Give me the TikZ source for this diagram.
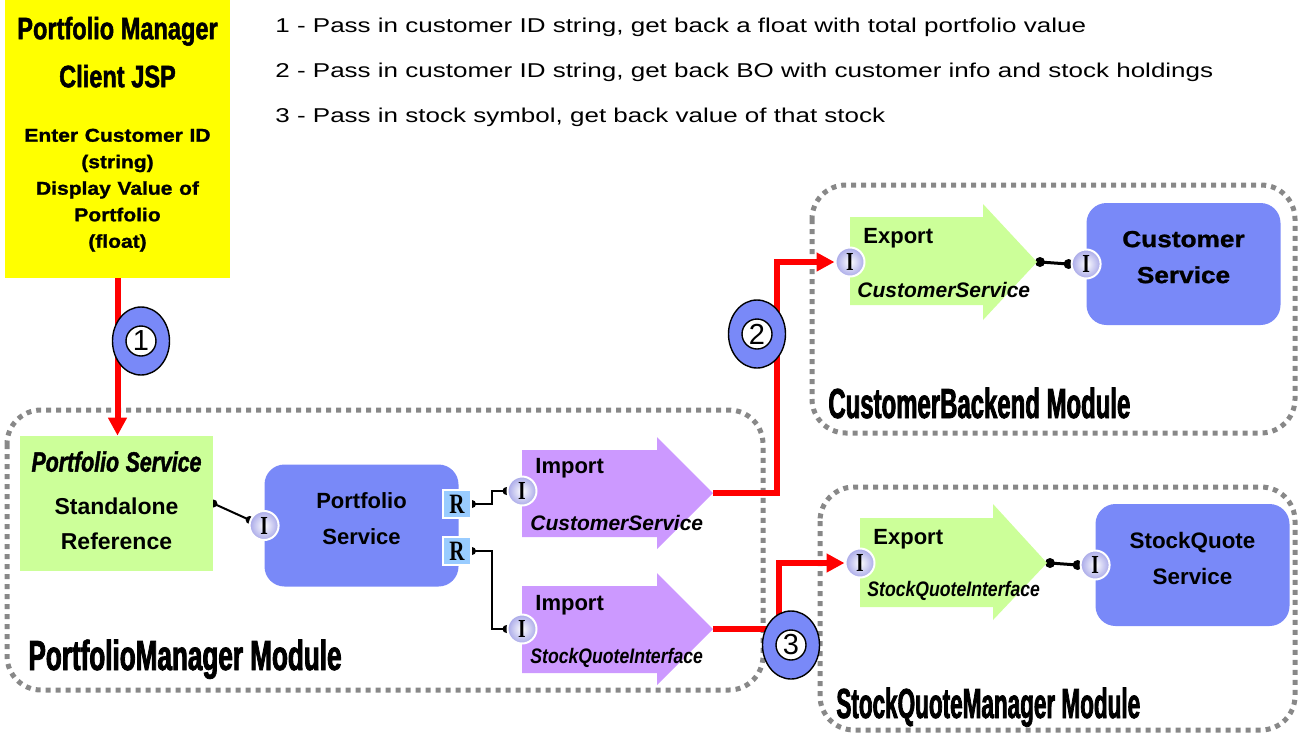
\documentclass[tikz,border=0pt]{standalone}
\usepackage{fontspec}
\setmainfont{Liberation Sans}
\newfontfamily\widefont[FakeStretch=1.3]{Liberation Sans}
\newfontfamily\blackfont[FakeStretch=1.13, FakeBold=1.2]{Liberation Sans}
\newfontfamily\titlefont[FakeStretch=0.76, FakeBold=1.5]{Liberation Sans}
\newfontfamily\modfont[FakeStretch=0.57, FakeBold=1.8]{Liberation Sans}
\newfontfamily\slimfont[FakeStretch=0.84]{Liberation Sans}
\newfontfamily\portfont[FakeStretch=0.75]{Liberation Serif}
\usetikzlibrary{shapes.geometric,arrows.meta,backgrounds,calc,shadings}
\definecolor{jspyellow}{RGB}{255,255,0}
\definecolor{refgreen}{RGB}{204,255,153}
\definecolor{svcblue}{RGB}{121,137,248}
\definecolor{imppurple}{RGB}{204,153,255}
\definecolor{portlav}{RGB}{168,168,232}
\definecolor{rportblue}{RGB}{153,204,255}
\definecolor{modgray}{RGB}{136,136,136}
\definecolor{flowred}{RGB}{255,0,0}

\begin{document}
\begin{tikzpicture}[x=0.5pt,y=-0.5pt]
	\tikzstyle{module}=[draw=modgray, line width=2.5pt, dash pattern=on 2.5pt off 2.5pt, rounded corners=17pt]
	\tikzstyle{mod-label}=[anchor=base west, inner sep=0pt, transform shape, font=\modfont\bfseries\fontsize{21}{21}\selectfont]
	\tikzstyle{note}=[anchor=base west, inner sep=0pt, font=\widefont\fontsize{10}{10}\selectfont]
	\tikzstyle{svc}=[rectangle, rounded corners=10pt, fill=svcblue, inner sep=0pt, minimum width=97pt, minimum height=61pt, text width=92pt, text depth=25pt, align=center]
	\tikzstyle{imp-arrow}=[fill=imppurple]
	\tikzstyle{exp-arrow}=[fill=refgreen]
	\tikzstyle{kind}=[anchor=base west, inner sep=0pt, font=\bfseries\fontsize{11}{11}\selectfont]
	\tikzstyle{iface}=[anchor=base west, inner sep=0pt, font=\bfseries\itshape\fontsize{10.5}{10.5}\selectfont]
	\tikzstyle{i-port}=[circle, inner sep=0pt, minimum size=14.5pt, draw=white, line width=1pt, inner color=white, outer color=portlav, font=\portfont\bfseries\fontsize{13}{13}\selectfont]
	\tikzstyle{r-port}=[rectangle, inner sep=0pt, minimum size=14pt, fill=rportblue, draw=white, line width=1pt, font=\portfont\bfseries\fontsize{14}{14}\selectfont]
	\tikzstyle{wire}=[draw=black, line width=1pt]
	\tikzstyle{link}=[draw=black, line width=1.5pt]
	\tikzstyle{flow}=[draw=flowred, line width=3pt, -{Triangle[length=9pt,width=9pt]}]
	\tikzstyle{step-mark}=[ellipse, draw=black, line width=0.7pt, fill=svcblue, minimum width=28.5pt, minimum height=34pt, inner sep=0pt]
	\tikzstyle{step-num}=[circle, draw=black, line width=0.7pt, fill=white, minimum size=15pt, inner sep=0pt, font=\fontsize{14.5}{14.5}\selectfont]

	\def \impB{136}

	\useasboundingbox (0,0) rectangle (1306,735);

	% client and notes
	\node[fill=jspyellow, minimum width=112.5pt, minimum height=139pt, text width=112.5pt, text depth=111pt, inner sep=0pt, align=center] (client) at (117.5,139)
		{{\titlefont\bfseries\fontsize{15.5}{24}\selectfont Portfolio Manager\\Client JSP\par}\vskip14pt
		 {\blackfont\bfseries\fontsize{9.3}{13.25}\selectfont Enter Customer ID\\(string)\\Display Value of\\Portfolio\\(float)\par}};

	\node[note] (note1) at (275,32)	{1 - Pass in customer ID string, get back a float with total portfolio value};
	\node[note] (note2) at (275,77)	{2 - Pass in customer ID string, get back BO with customer info and stock holdings};
	\node[note] (note3) at (275,122)	{3 - Pass in stock symbol, get back value of that stock};

	% PortfolioManager module
	\node[fill=refgreen, minimum width=96.5pt, minimum height=67.5pt, text width=96.5pt, text depth=42pt, inner sep=0pt, align=center] (pfref) at (116.5,503.5)
		{{\titlefont\bfseries\itshape\fontsize{14}{14}\selectfont Portfolio Service\par}\vskip4pt
		 {\bfseries\fontsize{11.5}{17.5}\selectfont Standalone\\Reference\par}};
	\node[svc, font=\bfseries\fontsize{11}{18}\selectfont] (pfsvc) at (361.5,525.5) {Portfolio\\Service};

	\coordinate (imp1tip) at (713,493);
	\coordinate (imp2tip) at (713,493+\impB);
	\fill[imp-arrow] (522,450) -- (657,450) -- (657,437) -- (imp1tip) -- (657,549) -- (657,537) -- (522,537) -- cycle;
	\fill[imp-arrow] (522,450+\impB) -- (657,450+\impB) -- (657,437+\impB) -- (imp2tip) -- (657,549+\impB) -- (657,537+\impB) -- (522,537+\impB) -- cycle;
	\node[kind]	(imp1kind)	at (535,473)	{Import};
	\node[iface]	(imp1if)	at (530,530)	{CustomerService};
	\node[kind]	(imp2kind)	at (535,610)	{Import};
	\node[iface, font=\slimfont\bfseries\itshape\fontsize{10.5}{10.5}\selectfont]	(imp2if)	at (530,663)	{StockQuoteInterface};

	% CustomerBackend module
	\coordinate (ex1tip) at (1037,262);
	\fill[exp-arrow] (850,217) -- (983,217) -- (983,204) -- (ex1tip) -- (983,320) -- (983,305) -- (850,305) -- cycle;
	\node[kind]	(ex1kind)	at (863,243)	{Export};
	\node[iface]	(ex1if)	at (857,297)	{CustomerService};
	\node[svc, font=\blackfont\bfseries\fontsize{11.6}{18}\selectfont] (cust) at (1183.5,264) {Customer\\Service};

	% StockQuoteManager module
	\coordinate (ex2tip) at (1047,563);
	\fill[exp-arrow] (860,518) -- (993,518) -- (993,504) -- (ex2tip) -- (993,620) -- (993,607) -- (860,607) -- cycle;
	\node[kind]	(ex2kind)	at (873,544)	{Export};
	\node[iface, font=\slimfont\bfseries\itshape\fontsize{10.5}{10.5}\selectfont]	(ex2if)	at (867,596)	{StockQuoteInterface};
	\node[svc, font=\bfseries\fontsize{11.2}{18}\selectfont] (sq) at (1192.5,565) {StockQuote\\Service};

	% ports
	\node[i-port]	(ip1)	at (pfsvc.west)	{I};
	\node[i-port]	(ip2)	at (522,491)	{I};
	\node[i-port]	(ip3)	at (522,629)	{I};
	\node[i-port]	(ip4)	at (850,262)	{I};
	\node[i-port]	(ip5)	at (cust.west)	{I};
	\node[i-port]	(ip6)	at (860,563)	{I};
	\node[i-port]	(ip7)	at (sq.west)	{I};
	\node[r-port]	(rp1)	at (457,504)	{R};
	\node[r-port]	(rp2)	at (457,551)	{R};

	\node[mod-label, xscale=1.09] (pmlab) at (28,670)	{PortfolioManager Module};
	\node[mod-label] (cblab) at (828,418)	{CustomerBackend Module};
	\node[mod-label, xscale=0.94] (sqlab) at (836,718)	{StockQuoteManager Module};

	\begin{scope}[on background layer]
		\draw[module] (7,410) rectangle (763,690);
		\draw[module] (812,185) rectangle (1295,433);
		\draw[module] (820,487) rectangle (1295,730);

		\draw[wire] (pfref.east) -- (ip1.159);
		\fill (pfref.east) circle (2pt);
		\fill (ip1.159) circle (2pt);
		\draw[wire] (rp1.east) -- ++(20,0) |- (ip2);
		\fill (rp1.east) circle (2pt);
		\fill (ip2.west) circle (2pt);
		\draw[wire] (rp2.east) -- ++(20,0) |- (ip3);
		\fill (rp2.east) circle (2pt);
		\fill (ip3.west) circle (2pt);

		\coordinate (lk1a) at ($(ex1tip)+(3,0)$);
		\coordinate (lk1b) at ($(ip5.west)+(-2,0)$);
		\coordinate (lk2a) at ($(ex2tip)+(3,0)$);
		\coordinate (lk2b) at ($(ip7.west)+(-2,0)$);
		\draw[link] (lk1a) -- (lk1b);
		\fill (lk1a) circle (2.5pt);
		\fill (lk1b) circle (2.5pt);
		\draw[link] (lk2a) -- (lk2b);
		\fill (lk2a) circle (2.5pt);
		\fill (lk2b) circle (2.5pt);

		\draw[flow] (client.south) -- (client.south |- pfref.north);
		\draw[flow] (imp1tip) -- ++(64,0) |- (ip4.west);
		\draw[flow] (imp2tip) -- ++(66,0) |- (ip6.west);
	\end{scope}

	% step marks
	\node[step-mark] (s1) at (141,341) {};
	\node[step-num] (s1n) at (s1) {1};
	\node[step-mark] (s2) at (757,334) {};
	\node[step-num] (s2n) at (s2) {2};
	\node[step-mark] (s3) at (791,645) {};
	\node[step-num] (s3n) at (s3) {3};
\end{tikzpicture}
\end{document}
